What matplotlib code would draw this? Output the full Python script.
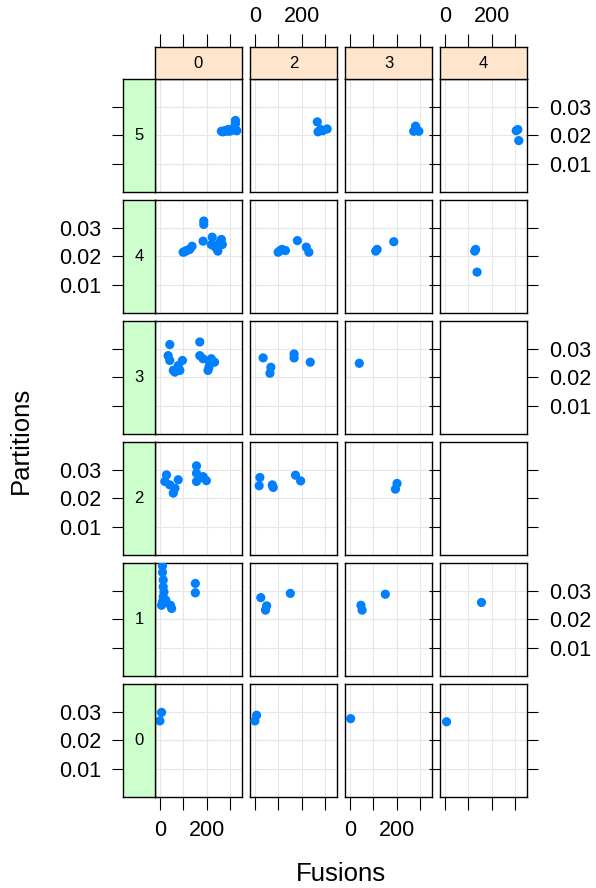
import matplotlib

matplotlib.use("Agg")
import matplotlib.pyplot as plt

plt.rcParams["font.family"] = ["Liberation Sans", "DejaVu Sans"]

# strip levels: columns (top strip) and rows (left strip, top to bottom)
col_levels = [0, 2, 3, 4]
row_levels = [5, 4, 3, 2, 1, 0]

# one inner list per column level, in the order of col_levels
fus_5 = [[262, 268, 276, 283, 290, 297, 304, 311, 318, 328, 322, 322],
         [266, 269, 280, 290, 308],
         [280, 272, 294, 283],
         [304, 311, 315]]
part_5 = [[0.0214, 0.0212, 0.0216, 0.0214, 0.0220, 0.0214, 0.0220, 0.0218, 0.0224, 0.0216, 0.0240, 0.0252],
          [0.0247, 0.0212, 0.0220, 0.0216, 0.0222],
          [0.0232, 0.0214, 0.0214, 0.0220],
          [0.0216, 0.0220, 0.0181]]

fus_4 = [[187, 187, 184, 99, 106, 113, 120, 127, 137, 223, 219, 240, 247, 262, 266, 254, 233],
         [181, 99, 108, 116, 130, 219, 230],
         [110, 116, 187],
         [127, 131, 137]]
part_4 = [[0.0324, 0.0312, 0.0253, 0.0214, 0.0216, 0.0220, 0.0222, 0.0224, 0.0235, 0.0267, 0.0241,
           0.0229, 0.0218, 0.0259, 0.0241, 0.0247, 0.0235],
          [0.0255, 0.0214, 0.0220, 0.0224, 0.0220, 0.0232, 0.0214],
          [0.0218, 0.0224, 0.0251],
          [0.0218, 0.0224, 0.0144]]

fus_3 = [[42, 35, 42, 64, 85, 96, 78, 57, 170, 170, 184, 205, 212, 233, 219, 209],
         [35, 68, 64, 167, 167, 236],
         [40],
         []]
part_3 = [[0.0315, 0.0276, 0.0259, 0.0218, 0.0224, 0.0259, 0.0241, 0.0224, 0.0324, 0.0276, 0.0265,
           0.0224, 0.0247, 0.0253, 0.0265, 0.0235],
          [0.0268, 0.0235, 0.0214, 0.0282, 0.0268, 0.0253],
          [0.0249],
          []]

fus_2 = [[28, 21, 42, 57, 78, 64, 156, 156, 156, 184, 198, 170],
         [21, 18, 74, 78, 173, 195],
         [201, 194],
         []]
part_2 = [[0.0282, 0.0259, 0.0247, 0.0218, 0.0265, 0.0235, 0.0314, 0.0288, 0.0259, 0.0276, 0.0262, 0.0271],
          [0.0273, 0.0244, 0.0247, 0.0238, 0.0281, 0.0261],
          [0.0252, 0.0232],
          []]

fus_1 = [[11, 11, 14, 14, 17, 14, 11, 7, 25, 45, 50, 151, 151],
         [25, 50, 45, 151],
         [47, 52, 151],
         [156]]
part_1 = [[0.0388, 0.0365, 0.0338, 0.0314, 0.0296, 0.0279, 0.0261, 0.0249, 0.0267, 0.0249, 0.0238,
           0.0326, 0.0293],
          [0.0276, 0.0247, 0.0232, 0.0291],
          [0.0249, 0.0232, 0.0288],
          [0.0259]]

fus_0 = [[7, 0], [7, 0], [3], [7]]
part_0 = [[0.0298, 0.0268], [0.0288, 0.0268], [0.0276], [0.0265]]

fusions = [fus_5, fus_4, fus_3, fus_2, fus_1, fus_0]
partitions = [part_5, part_4, part_3, part_2, part_1, part_0]

x_ticks = [0, 100, 200, 300]
x_labels = ["0", "", "200", ""]
y_ticks = [0.01, 0.02, 0.03]
y_labels = ["0.01", "0.02", "0.03"]
XLIM = (-21, 350)
YLIM = (0.0, 0.0398)

W, H = 596, 888
PW, PH = 87, 113
STRIP = 32
TICK_FS = 15.5
STRIP_FS = 12
POINT_COL = "#0080ff"


def box(x0, y0, w, h):
    return [x0 / W, 1 - (y0 + h) / H, w / W, h / H]


fig = plt.figure(figsize=(W / 100, H / 100), dpi=100)

for i, row in enumerate(row_levels):
    top = 79 + 121 * i
    for j, col in enumerate(col_levels):
        left = 155 + 95 * j
        ax = fig.add_axes(box(left, top, PW, PH))
        ax.set_xlim(*XLIM)
        ax.set_ylim(*YLIM)
        ax.set_xticks(x_ticks)
        ax.set_xticklabels(x_labels)
        ax.set_yticks(y_ticks)
        ax.set_yticklabels(y_labels)
        ax.tick_params(length=0, labelleft=False, labelbottom=False, labelsize=TICK_FS,
                       width=0.8, direction="out")
        for s in ax.spines.values():
            s.set_linewidth(1.0)
        x, y = fusions[i][j], partitions[i][j]
        if x:
            ax.grid(color="#e6e6e6", lw=0.8)
            ax.set_axisbelow(True)
            ax.scatter(x, y, s=44, c=POINT_COL, edgecolors="none", zorder=3)
        if i == len(row_levels) - 1:
            ax.tick_params(axis="x", bottom=True, length=9.4, pad=7,
                           labelbottom=j in (0, 2))
        if j == len(col_levels) - 1:
            ax.tick_params(axis="y", right=True, length=7.9, pad=8,
                           labelright=i % 2 == 0)

        if i == 0:
            tax = fig.add_axes(box(left, 79 - STRIP, PW, STRIP))
            tax.set_facecolor("#ffe5cc")
            tax.set_xlim(*XLIM)
            tax.set_xticks(x_ticks)
            tax.set_xticklabels(x_labels)
            tax.set_yticks([])
            tax.tick_params(axis="x", top=True, bottom=False, labelbottom=False,
                            labeltop=j in (1, 3), length=9.4, width=0.8, pad=5,
                            labelsize=TICK_FS)
            for s in tax.spines.values():
                s.set_linewidth(1.0)
            tax.text(0.5, 0.5, str(col), transform=tax.transAxes, ha="center",
                     va="center", fontsize=STRIP_FS)

        if j == 0:
            sax = fig.add_axes(box(155 - STRIP, top, STRIP, PH))
            sax.set_facecolor("#ccffcc")
            sax.set_ylim(*YLIM)
            sax.set_yticks(y_ticks)
            sax.set_yticklabels(y_labels)
            sax.set_xticks([])
            sax.tick_params(axis="y", length=7.9, width=0.8, pad=8,
                            labelleft=i % 2 == 1, labelsize=TICK_FS)
            for s in sax.spines.values():
                s.set_linewidth(1.0)
            sax.text(0.5, 0.5, str(row), transform=sax.transAxes, ha="center",
                     va="center", fontsize=STRIP_FS)

fig.text(341 / W, 1 - 874 / H, "Fusions", ha="center", va="center", fontsize=18.5)
fig.text(21 / W, 1 - 440 / H, "Partitions", ha="center", va="center",
         rotation=90, fontsize=18.5)

fig.savefig("out.png", dpi=100)
plt.close(fig)
